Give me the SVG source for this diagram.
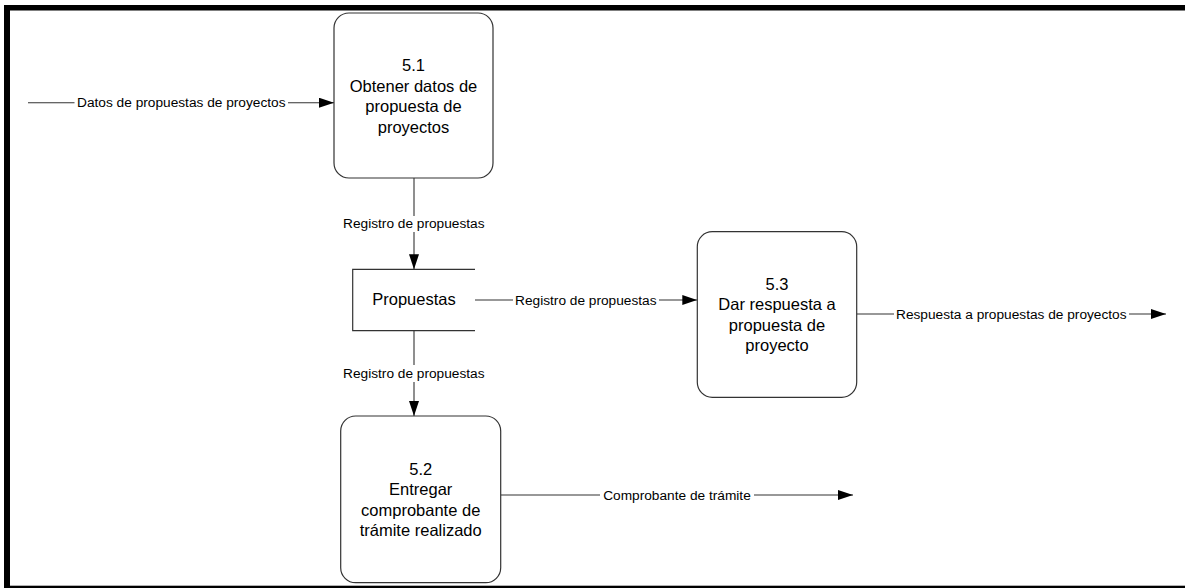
<svg xmlns="http://www.w3.org/2000/svg" width="1185" height="588" viewBox="0 0 1185 588">
  <style>
    .proc { fill: #ffffff; stroke: #333333; stroke-width: 1.2; }
    .store { fill: none; stroke: #333333; stroke-width: 1.2; }
    .flow { fill: none; stroke: #333333; stroke-width: 1.1; }
    .big { font-family: "Liberation Sans", Arial, sans-serif; font-size: 16.5px; fill: #000000; text-anchor: middle; }
    .lbl { font-family: "Liberation Sans", Arial, sans-serif; font-size: 13.7px; fill: #000000; text-anchor: middle; }
    .frame { fill: #000000; }
  </style>
  <defs>
    <marker id="arrow" markerUnits="userSpaceOnUse" markerWidth="15" markerHeight="10" refX="15" refY="5" orient="auto">
      <path d="M0,0 L15,5 L0,10 z" fill="#000000"/>
    </marker>
  </defs>

  <rect width="1185" height="588" fill="#ffffff"/>

  <!-- page frame: heavy top and left edges, lighter bottom edge -->
  <g id="frame">
    <rect class="frame" x="4" y="5" width="1181" height="5.5"/>
    <rect class="frame" x="4" y="5" width="6" height="583"/>
    <rect class="frame" x="4" y="585.7" width="1181" height="2.3"/>
  </g>

  <!-- data flows -->
  <g id="connectors">
    <path class="flow" d="M28,102.7 H74.5"/>
    <path class="flow" d="M288,102.7 H334" marker-end="url(#arrow)"/>
    <text class="lbl" x="181.3" y="107.4">Datos de propuestas de proyectos</text>

    <path class="flow" d="M414,178 V216"/>
    <path class="flow" d="M414,232 V269.3" marker-end="url(#arrow)"/>
    <text class="lbl" x="413.8" y="228">Registro de propuestas</text>

    <path class="flow" d="M475,300 H513"/>
    <path class="flow" d="M659,300 H697.3" marker-end="url(#arrow)"/>
    <text class="lbl" x="585.8" y="304.8">Registro de propuestas</text>

    <path class="flow" d="M414,330.7 V365"/>
    <path class="flow" d="M414,382 V416" marker-end="url(#arrow)"/>
    <text class="lbl" x="413.8" y="378.3">Registro de propuestas</text>

    <path class="flow" d="M856.7,314 H894"/>
    <path class="flow" d="M1129,314 H1166" marker-end="url(#arrow)"/>
    <text class="lbl" x="1011.3" y="318.8">Respuesta a propuestas de proyectos</text>

    <path class="flow" d="M500.7,495 H600"/>
    <path class="flow" d="M754,495 H853" marker-end="url(#arrow)"/>
    <text class="lbl" x="677" y="499.8">Comprobante de trámite</text>
  </g>

  <!-- process 5.1 -->
  <g id="p5-1">
    <rect class="proc" x="334" y="13" width="159" height="165" rx="15" ry="15"/>
    <text class="big" x="413.5" y="71">5.1</text>
    <text class="big" x="413.5" y="91.5">Obtener datos de</text>
    <text class="big" x="413.5" y="112">propuesta de</text>
    <text class="big" x="413.5" y="132.5">proyectos</text>
  </g>

  <!-- data store -->
  <g id="store-propuestas">
    <path class="store" d="M475,269.3 H352.7 V330.7 H475"/>
    <text class="big" x="414" y="305">Propuestas</text>
  </g>

  <!-- process 5.3 -->
  <g id="p5-3">
    <rect class="proc" x="697.3" y="231.7" width="159.4" height="165.6" rx="15" ry="15"/>
    <text class="big" x="777" y="289.7">5.3</text>
    <text class="big" x="777" y="310.2">Dar respuesta a</text>
    <text class="big" x="777" y="330.7">propuesta de</text>
    <text class="big" x="777" y="351.2">proyecto</text>
  </g>

  <!-- process 5.2 -->
  <g id="p5-2">
    <rect class="proc" x="340.7" y="416" width="160" height="166.7" rx="15" ry="15"/>
    <text class="big" x="420.7" y="474.5">5.2</text>
    <text class="big" x="420.7" y="495">Entregar</text>
    <text class="big" x="420.7" y="515.5">comprobante de</text>
    <text class="big" x="420.7" y="536">trámite realizado</text>
  </g>
</svg>
